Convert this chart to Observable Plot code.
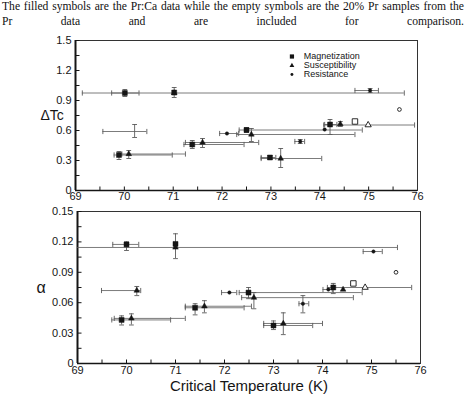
<!DOCTYPE html>
<html><head><meta charset="utf-8">
<script src="https://cdn.jsdelivr.net/npm/d3@7"></script>
<script src="https://cdn.jsdelivr.net/npm/@observablehq/plot@0.6"></script>
<style>
body{margin:0;background:#fff;width:466px;height:401px;position:relative;overflow:hidden}
#cap{position:absolute;left:2px;top:-1px;width:462px;font:11.6px/15px "Liberation Serif","Times New Roman",serif;color:#111}
#cap div{text-align:justify;text-align-last:justify;white-space:nowrap}
#p1,#p2{position:absolute;left:0}
#p1{top:0}
#p2{top:200px}
svg{overflow:visible}
</style></head><body>
<div id="cap"><div>The filled symbols are the Pr:Ca data while the empty symbols are the 20% Pr samples from the</div><div>Pr data and are included for comparison.</div></div>
<div id="p1"></div><div id="p2"></div>
<script>
// Series types: M = Magnetization, S = Susceptibility, R = Resistance, X = no marker
const legendTypes = ["M", "S", "R"];
const legendLabels = ["Magnetization", "Susceptibility", "Resistance"];
const xTicks = [69, 70, 71, 72, 73, 74, 75, 76];
const dtTicks = [0, 0.3, 0.6, 0.9, 1.2, 1.5];
const alTicks = [0, 0.03, 0.06, 0.09, 0.12, 0.15];

// Top panel: ΔTc
const dtT   = [69.89, 70.09, 70.01, 71.02, 71.02, 70.21, 71.39, 71.60, 72.10, 72.50, 72.60, 74.10, 74.21, 74.42, 74.72, 74.99, 75.63, 73.60, 72.98, 73.20, 75.03];
const dtV   = [0.355, 0.365, 0.975, 0.98, 0.975, 0.59, 0.46, 0.48, 0.57, 0.605, 0.56, 0.61, 0.66, 0.665, 0.69, 0.655, 0.81, 0.49, 0.33, 0.32, 1.00];
const dtXlo = [69.79, 69.95, 69.74, null, 69.14, 69.56, 71.22, 71.25, 71.95, 72.35, 72.30, null, 74.10, null, null, 74.08, null, 73.49, 72.80, 72.80, 74.72];
const dtXhi = [70.98, 71.25, 70.30, null, 75.73, 70.46, 72.45, 72.75, 72.34, 74.87, 74.72, null, 74.35, null, null, 75.94, null, 73.69, 73.10, 74.04, 75.20];
const dtYlo = [0.31, 0.32, 0.94, 0.93, null, 0.53, 0.42, 0.43, null, 0.58, 0.49, null, 0.56, 0.64, null, null, null, 0.47, 0.31, 0.23, 0.98];
const dtYhi = [0.39, 0.40, 1.01, 1.03, null, 0.66, 0.50, 0.52, null, 0.63, 0.62, null, 0.71, 0.69, null, null, null, 0.51, 0.35, 0.42, 1.02];
const dtType = ["M", "S", "M", "M", "S", "X", "M", "S", "R", "M", "S", "R", "M", "S", "M", "S", "R", "R", "M", "S", "R"];
const dtSet  = ["PrCa", "PrCa", "PrCa", "PrCa", "PrCa", "PrCa", "PrCa", "PrCa", "PrCa", "PrCa", "PrCa", "PrCa", "PrCa", "PrCa", "Pr20", "Pr20", "Pr20", "PrCa", "PrCa", "PrCa", "PrCa"];

// Bottom panel: α
const alT   = [69.90, 70.10, 70.00, 71.00, 71.00, 70.21, 71.40, 71.59, 72.10, 72.49, 72.60, 74.12, 74.22, 74.42, 74.63, 74.87, 75.50, 73.60, 73.00, 73.20, 75.04];
const alV   = [0.043, 0.0445, 0.1175, 0.118, 0.1145, 0.072, 0.055, 0.0565, 0.070, 0.070, 0.065, 0.073, 0.075, 0.073, 0.079, 0.075, 0.090, 0.059, 0.0375, 0.0395, 0.1105];
const alXlo = [69.70, 69.75, 69.72, null, 68.80, 69.49, 71.20, 71.20, 71.94, 72.30, 72.35, 74.01, null, null, null, 74.10, null, 73.52, 72.80, 72.80, 74.83];
const alXhi = [70.90, 71.20, 70.25, null, 75.53, 70.29, 72.40, 72.55, 72.25, 74.81, 74.63, 74.20, null, null, null, 75.82, null, 73.72, 73.80, 74.00, 75.22];
const alYlo = [0.038, 0.038, 0.1115, 0.1035, null, 0.067, 0.048, 0.050, null, 0.064, 0.054, null, 0.069, null, null, null, null, 0.050, 0.0335, 0.0285, null];
const alYhi = [0.047, 0.049, 0.120, 0.128, null, 0.076, 0.059, 0.062, null, 0.075, 0.070, null, 0.079, null, null, null, null, 0.067, 0.042, 0.050, null];
const alType = ["M", "S", "M", "M", "S", "S", "M", "S", "R", "M", "S", "R", "M", "S", "M", "S", "R", "R", "M", "S", "R"];
const alSet  = dtSet;

const ink = "#151515", bar = "#5a5a5a";
const seg = (f) => ({draw(ctx, size) { const r = Math.sqrt(size / Math.PI); f(ctx, r); }});
const hTickIn = seg((c, r) => { c.moveTo(0, 0); c.lineTo(r, 0); });
const vTickUp = seg((c, r) => { c.moveTo(0, 0); c.lineTo(0, -r); });
const vCap = seg((c, r) => { c.moveTo(0, -r); c.lineTo(0, r); });
const hCap = seg((c, r) => { c.moveTo(-r, 0); c.lineTo(r, 0); });
const symOf = {M: "square", S: "triangle", R: "circle"};
const rOf = {M: 2.8, S: 2.1, R: 1.7};

function panel(T, V, XL, XH, YL, YH, TY, SE, o) {
  const rows = T.map((t, i) => ({t, v: V[i], xlo: XL[i], xhi: XH[i], ylo: YL[i], yhi: YH[i], type: TY[i], set: SE[i]}));
  const hx = rows.filter(d => d.xlo != null);
  const vy = rows.filter(d => d.ylo != null);
  const capsX = hx.flatMap(d => [{x: d.xlo, v: d.v}, {x: d.xhi, v: d.v}]);
  const capsY = vy.flatMap(d => [{t: d.t, y: d.ylo}, {t: d.t, y: d.yhi}]);
  const marks = [
    Plot.frame({stroke: "#333", strokeWidth: 1}),
    Plot.ruleX([69], {stroke: ink, strokeWidth: 2}),
    Plot.ruleY([0], {stroke: ink, strokeWidth: 1.5}),
    Plot.dot(o.minor, {y: d => d, frameAnchor: "left", symbol: hTickIn, r: 4, stroke: ink, strokeWidth: 1}),
    Plot.dot(d3.range(69.5, 76, 0.5), {x: d => d, frameAnchor: "bottom", symbol: vTickUp, r: 4, stroke: ink, strokeWidth: 1}),
    Plot.axisX({ticks: xTicks, tickSize: 0, tickPadding: o.xpad, fontSize: 11, label: null, tickFormat: d => String(d)}),
    Plot.axisY({ticks: o.ticks, tickSize: 0, tickPadding: 4, fontSize: 11, label: null, tickFormat: o.fmt}),
    Plot.ruleY(hx, {y: "v", x1: "xlo", x2: "xhi", stroke: bar, strokeWidth: 0.8, clip: true}),
    Plot.dot(capsX.filter(d => d.x >= 69), {x: "x", y: "v", symbol: vCap, r: 2.6, stroke: bar, strokeWidth: 0.9}),
    Plot.ruleX(vy, {x: "t", y1: "ylo", y2: "yhi", stroke: bar, strokeWidth: 0.9}),
    Plot.dot(capsY, {x: "t", y: "y", symbol: hCap, r: 2.4, stroke: bar, strokeWidth: 0.9}),
    Plot.text([o.ylabel], {frameAnchor: "left", dx: o.ydx, fontSize: o.yfs, fill: ink})
  ];
  for (const ty of ["M", "S", "R"]) {
    for (const s of ["PrCa", "Pr20"]) {
      const sub = rows.filter(d => d.type === ty && d.set === s);
      marks.push(Plot.dot(sub, {x: "t", y: "v", symbol: symOf[ty], r: s === "Pr20" ? rOf[ty] * 1.1 : rOf[ty],
        fill: s === "PrCa" ? ink : "white", stroke: ink, strokeWidth: s === "PrCa" ? 0.5 : 0.9}));
    }
  }
  if (o.legend) {
    const lx = 73.43, tx = 73.67, ly = [1.34, 1.25, 1.16];
    const leg = legendTypes.map((ty, i) => ({ty, label: legendLabels[i], y: ly[i]}));
    for (const d of leg) marks.push(Plot.dot([d], {x: () => lx, y: "y", symbol: symOf[d.ty], r: rOf[d.ty] * 0.85, fill: ink}));
    marks.push(Plot.text(leg, {x: () => tx, y: "y", text: "label", textAnchor: "start", fontSize: 9, fill: ink}));
  }
  if (o.xlabel) marks.push(Plot.text([o.xlabel], {frameAnchor: "bottom", dy: 27, fontSize: 15, fill: ink}));
  return Plot.plot({
    width: 466, height: o.height,
    marginTop: o.mt, marginBottom: o.mb, marginLeft: o.ml, marginRight: o.mr,
    style: {fontFamily: "'Liberation Sans', Arial, sans-serif", background: "transparent", overflow: "visible", color: ink},
    x: {domain: [69, 76]},
    y: {domain: o.domain},
    marks
  });
}

document.getElementById("p1").append(panel(dtT, dtV, dtXlo, dtXhi, dtYlo, dtYhi, dtType, dtSet, {
  height: 200, mt: 40, mb: 10, ml: 75, mr: 49, domain: [0, 1.5], ticks: dtTicks,
  minor: d3.range(0.15, 1.5, 0.15), fmt: d => d === 0 ? "0" : d.toFixed(1),
  ylabel: "ΔTc", ydx: -35, yfs: 14, xpad: 2, legend: true
}));
document.getElementById("p2").append(panel(alT, alV, alXlo, alXhi, alYlo, alYhi, alType, alSet, {
  height: 201, mt: 11, mb: 38, ml: 77, mr: 46, domain: [0, 0.15], ticks: alTicks,
  minor: d3.range(0.015, 0.15, 0.015), fmt: d => d === 0 ? "0" : d.toFixed(2),
  ylabel: "α", ydx: -41, yfs: 16, xpad: 3, xlabel: "Critical Temperature (K)"
}));
</script>
</body></html>
